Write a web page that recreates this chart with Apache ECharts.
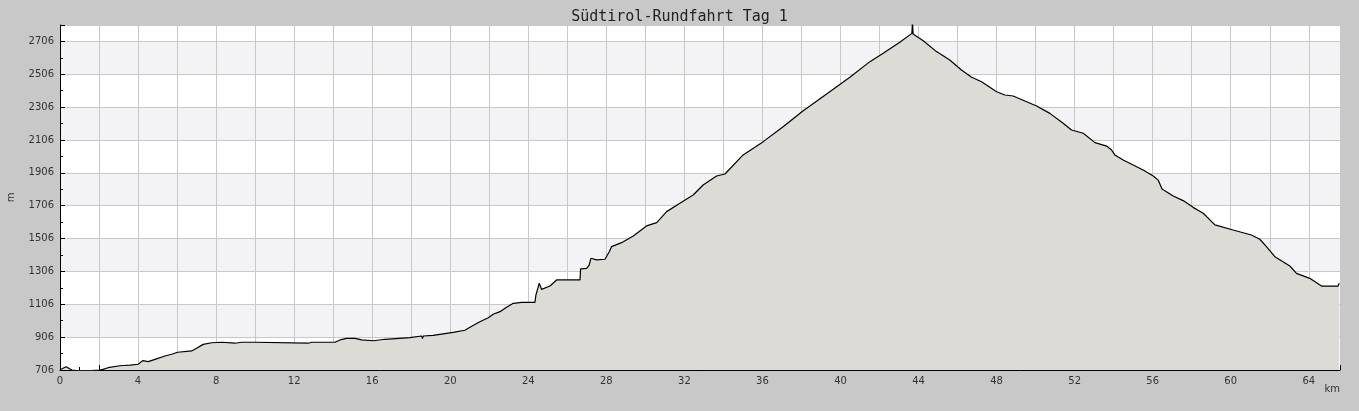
<!DOCTYPE html>
<html>
<head>
<meta charset="utf-8">
<script src="https://cdn.jsdelivr.net/npm/echarts@6/dist/echarts.min.js"></script>
<style>
html,body{margin:0;padding:0;background:#c8c8c8;}
#chart{width:1359px;height:411px;}
</style>
</head>
<body>
<div id="chart"></div>
<script>
var titleText = 'Südtirol-Rundfahrt Tag 1';
var xName = 'km';
var yName = 'm';
var km = [0, 0.05, 0.31, 0.6, 0.9, 1.6, 1.68, 2.05, 2.2, 2.46, 3.07, 3.59, 4.01, 4.24, 4.52, 4.87, 5.38, 5.72, 6.03, 6.75, 7.0, 7.34, 7.77, 8.29, 8.97, 9.31, 9.99, 10.08, 12.72, 12.9, 14.09, 14.35, 14.69, 15.12, 15.46, 16.06, 16.65, 17.94, 18.53, 18.58, 18.62, 19.13, 20.15, 20.75, 21.01, 21.52, 21.95, 22.2, 22.55, 22.89, 23.23, 23.66, 24.34, 24.39, 24.56, 24.68, 25.11, 25.45, 26.65, 26.68, 26.99, 27.12, 27.21, 27.5, 27.93, 28.15, 28.27, 28.78, 29.38, 30.06, 30.58, 31.09, 31.77, 32.45, 32.96, 33.65, 34.08, 35.01, 36.04, 37.06, 38.09, 39.29, 40.48, 41.51, 42.19, 43.04, 43.66, 43.69, 43.72, 44.24, 44.92, 45.6, 46.2, 46.72, 47.23, 48.0, 48.42, 48.85, 49.45, 50.05, 50.73, 51.41, 51.84, 52.44, 53.04, 53.64, 53.89, 54.06, 54.49, 55.0, 55.51, 56.03, 56.28, 56.48, 57.05, 57.56, 58.07, 58.59, 59.19, 60.12, 61.06, 61.49, 61.83, 62.26, 63.03, 63.37, 64.05, 64.65, 65.08, 65.5, 65.56];
var elevation = [708, 710, 726, 706, 703, 703, 704, 706, 710, 720, 732, 736, 741, 763, 757, 771, 791, 802, 814, 822, 838, 862, 872, 875, 869, 875, 875, 869, 869, 875, 875, 889, 899, 899, 889, 884, 893, 903, 913, 897, 913, 917, 935, 948, 966, 1000, 1024, 1045, 1061, 1088, 1112, 1118, 1118, 1162, 1234, 1197, 1217, 1254, 1254, 1321, 1325, 1345, 1386, 1376, 1380, 1426, 1457, 1481, 1522, 1583, 1603, 1670, 1721, 1771, 1832, 1887, 1899, 2015, 2096, 2187, 2284, 2386, 2488, 2583, 2634, 2701, 2755, 2830, 2751, 2710, 2644, 2593, 2532, 2488, 2461, 2400, 2380, 2374, 2343, 2313, 2268, 2208, 2167, 2147, 2090, 2069, 2045, 2015, 1984, 1954, 1923, 1887, 1862, 1808, 1765, 1737, 1696, 1660, 1589, 1558, 1528, 1502, 1457, 1396, 1339, 1294, 1264, 1217, 1217, 1217, 1234];
var yMin = 706, yMax = 2806, yStep = 200;
var xMin = 0, xMax = 65.6, xStep = 2, xLabelStep = 4;

var points = km.map(function (k, i) { return [k, elevation[i]]; });
var chart = echarts.init(document.getElementById('chart'), null, {renderer: 'canvas'});
var axisFont = {fontFamily: 'DejaVu Sans', fontSize: 10, color: '#333'};
chart.setOption({
  backgroundColor: '#c8c8c8',
  animation: false,
  title: {
    text: titleText, left: 'center', top: 5,
    textStyle: {fontFamily: 'DejaVu Sans Mono', fontSize: 15, fontWeight: 'normal', color: '#222'}
  },
  grid: {left: 60, right: 19, top: 25, bottom: 41, show: true, backgroundColor: '#fff', borderWidth: 0,
         containLabel: false, outerBoundsMode: 'none'},
  xAxis: {
    type: 'value', min: xMin, max: xMax, interval: xStep,
    name: xName, nameLocation: 'end', nameGap: 0,
    nameTextStyle: Object.assign({align: 'right', verticalAlign: 'top', padding: [14, 0, 0, 0]}, axisFont),
    axisLine: {show: true, onZero: false, lineStyle: {color: '#000', width: 1}},
    axisTick: {show: true, inside: true, length: 5, lineStyle: {color: '#000'}},
    minorTick: {show: true, splitNumber: 2, length: 3, lineStyle: {color: '#000'}},
    axisLabel: Object.assign({
      margin: 6, showMaxLabel: false,
      formatter: function (v) { return (Math.abs(v % xLabelStep) < 1e-9) ? String(v) : ''; }
    }, axisFont),
    splitLine: {show: true, lineStyle: {color: '#c8c8c8', width: 1}}
  },
  yAxis: {
    type: 'value', min: yMin, max: yMax, interval: yStep,
    name: yName, nameLocation: 'middle', nameGap: 44, nameRotate: 90,
    nameTextStyle: axisFont,
    axisLine: {show: true, lineStyle: {color: '#000', width: 1}},
    axisTick: {show: true, inside: true, length: 5, lineStyle: {color: '#000'}},
    minorTick: {show: true, splitNumber: 2, length: 3, lineStyle: {color: '#000'}},
    axisLabel: Object.assign({margin: 6, showMaxLabel: false,
      formatter: function (v) { return String(v); }}, axisFont),
    splitLine: {show: true, lineStyle: {color: '#c8c8c8', width: 1}},
    splitArea: {show: true, areaStyle: {color: ['#ffffff', '#f3f2f5']}}
  },
  series: [{
    type: 'line', data: points, symbol: 'none', smooth: false, clip: true,
    lineStyle: {color: '#000', width: 1.2},
    areaStyle: {color: '#dcdbd6', opacity: 1, origin: 'start'}
  }]
});
</script>
</body>
</html>
